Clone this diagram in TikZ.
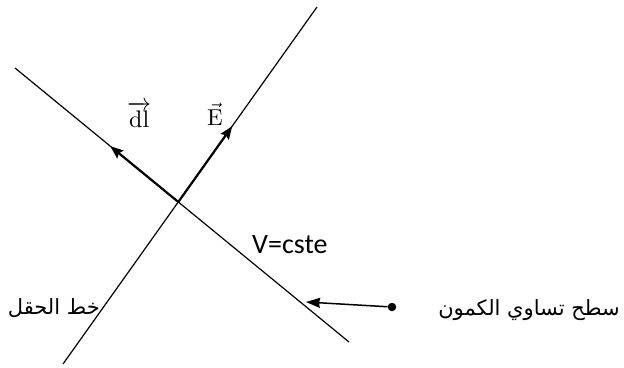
\documentclass[tikz,border=0pt]{standalone}
\usepackage{fontspec}
\usepackage{amsmath}
\usepackage{graphicx}
\usetikzlibrary{arrows.meta,calc}
\TeXXeTstate=1
\newfontfamily\arabicfont[Script=Arabic]{DejaVu Sans}
\newfontfamily\calfont{Carlito}
\begin{document}
\begin{tikzpicture}[x=1pt,y=-1pt,
  thinline/.style={line width=1.2pt},
  vecarrow/.style={line width=2.2pt,-{Stealth[length=13pt,width=10pt,inset=2pt]}},
  ptrarrow/.style={line width=1.5pt,-{Stealth[length=14pt,width=10pt,inset=1pt]}},
  vlabel/.style={inner sep=0pt},
  arlabel/.style={font=\fontsize{21}{25}\selectfont\arabicfont,inner sep=0pt},
  dotmark/.style={circle,fill=black,inner sep=0pt,minimum size=8.5pt}]
\useasboundingbox (0,0) rectangle (624,367);
\coordinate (f1) at (63,364);
\coordinate (f2) at (317,7);
\coordinate (e1) at (15,68);
\coordinate (e2) at (349,342);
\coordinate (I) at (intersection of f1--f2 and e1--e2);
\draw[thinline] (f1) -- (f2);
\draw[thinline] (e1) -- (e2);
\coordinate (dltip) at ($(I)!88pt!(e1)$);
\coordinate (Etip) at ($(I)!93pt!(f2)$);
\draw[vecarrow] (I) -- (dltip);
\draw[vecarrow] (I) -- (Etip);
\node[vlabel,anchor=base west] (dl) at (127,127) {\scalebox{2.4}{$\overrightarrow{\mathrm{dl}}$}};
\node[vlabel,anchor=base west] (E) at (207,125) {\scalebox{2.3}{$\vec{\mathrm{E}}$}};
\node[font=\fontsize{28}{32}\selectfont\calfont,inner sep=0pt,anchor=base west] (V) at (252,253) {V=cste};
\node[arlabel,anchor=base east] (fl) at (100,314) {\beginR خط الحقل\endR};
\node[arlabel,anchor=base east] (eq) at (620,315) {\beginR سطح تساوي الكمون\endR};
\node[dotmark] (dot) at (392,307) {};
\coordinate (ptip) at (306,302);
\draw[ptrarrow] (dot) -- (ptip);
\end{tikzpicture}
\end{document}
